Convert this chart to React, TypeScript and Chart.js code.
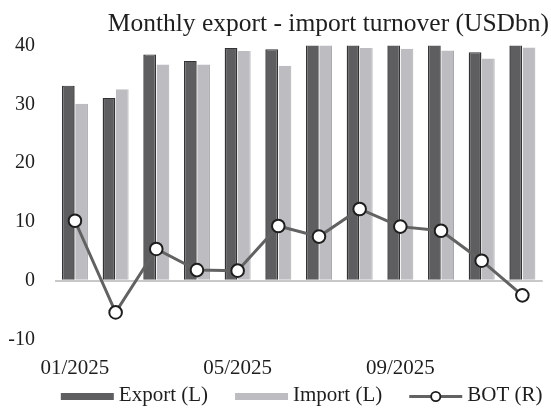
import React, { useEffect, useRef } from "react";
import { Chart, registerables } from "chart.js";

Chart.register(...registerables);

// ---- Data ----
const TITLE = "Monthly export - import turnover (USDbn)";
const months = [
  "01/2025", "02/2025", "03/2025", "04/2025", "05/2025", "06/2025",
  "07/2025", "08/2025", "09/2025", "10/2025", "11/2025", "12/2025",
];
const exportValues = [33.2, 31.1, 38.5, 37.4, 39.6, 39.4, 42.0, 43.0, 42.0, 42.5, 38.9, 44.0];
const importValues = [30.1, 32.6, 36.8, 36.8, 39.1, 36.6, 40.3, 39.6, 39.5, 39.2, 37.8, 39.7];
const botValues = [10.2, -5.4, 5.4, 1.8, 1.7, 9.3, 7.5, 12.2, 9.2, 8.5, 3.4, -2.5];
const seriesLabels = ["Export (L)", "Import (L)", "BOT (R)"];
const yMin = -10;
const yMax = 40;
const yStep = 10;
const labelEvery = 4;

// ---- Styles ----
const FONT = "'Liberation Serif', 'Times New Roman', Times, serif";
const TEXT = "#1e1e1e";
const EXPORT_FILL = "#5e5e60";
const EXPORT_EDGE = "#333335";
const IMPORT_FILL = "#bdbdc1";
const IMPORT_EDGE = "#a9a9ad";
const BOT_LINE = "#626262";
const BOT_POINT_EDGE = "#1e1e1e";

const legendPlugin = {
  id: "customLegend",
  afterDraw(chart: any) {
    const ctx = chart.ctx as CanvasRenderingContext2D;
    const ds = chart.data.datasets as any[];
    ctx.save();
    ctx.font = `21px ${FONT}`;
    const sw = 53;
    const gapText = 5;
    const gapItem = 27;
    const widths = ds.map((d) => ctx.measureText(d.label).width);
    const total =
      widths.reduce((a: number, w: number) => a + sw + gapText + w, 0) + gapItem * (ds.length - 1);
    const ca = chart.chartArea;
    let x = (ca.left + ca.right) / 2 - total / 2 + 3;
    const baseline = chart.height - 11;
    const midY = baseline - 4.5;
    ds.forEach((d, i) => {
      if (d.type === "line") {
        ctx.strokeStyle = d.borderColor;
        ctx.lineWidth = 3;
        ctx.beginPath();
        ctx.moveTo(x, midY);
        ctx.lineTo(x + sw, midY);
        ctx.stroke();
        ctx.beginPath();
        ctx.arc(x + sw / 2, midY, 4.6, 0, Math.PI * 2);
        ctx.fillStyle = "#ffffff";
        ctx.fill();
        ctx.lineWidth = 1.8;
        ctx.strokeStyle = d.pointBorderColor;
        ctx.stroke();
      } else {
        ctx.fillStyle = d.backgroundColor;
        ctx.fillRect(x, midY - 3.5, sw, 7);
      }
      ctx.fillStyle = TEXT;
      ctx.textBaseline = "alphabetic";
      ctx.textAlign = "left";
      ctx.fillText(d.label, x + sw + gapText, baseline);
      x += sw + gapText + widths[i] + gapItem;
    });
    ctx.restore();
  },
};

export default function App() {
  const ref = useRef<HTMLCanvasElement>(null);

  useEffect(() => {
    if (!ref.current) return;
    const chart = new Chart(ref.current, {
      type: "bar",
      data: {
        labels: months,
        datasets: [
          {
            type: "bar",
            label: seriesLabels[0],
            data: exportValues,
            backgroundColor: EXPORT_FILL,
            borderColor: EXPORT_EDGE,
            borderWidth: { left: 1.5, right: 1.5, top: 1, bottom: 0 },
            yAxisID: "y",
            order: 1,
            clip: 0,
            categoryPercentage: 0.652,
            barPercentage: 0.96,
          },
          {
            type: "bar",
            label: seriesLabels[1],
            data: importValues,
            backgroundColor: IMPORT_FILL,
            borderColor: IMPORT_EDGE,
            borderWidth: { left: 0, right: 1, top: 0, bottom: 0 },
            yAxisID: "y",
            order: 1,
            clip: 0,
            categoryPercentage: 0.652,
            barPercentage: 0.96,
          },
          {
            type: "line",
            label: seriesLabels[2],
            data: botValues,
            borderColor: BOT_LINE,
            borderWidth: 3,
            tension: 0,
            pointRadius: 6.3,
            pointBorderWidth: 2,
            pointBackgroundColor: "#ffffff",
            pointBorderColor: BOT_POINT_EDGE,
            yAxisID: "y1",
            order: 0,
          },
        ] as any,
      },
      options: {
        responsive: false,
        animation: false,
        events: [],
        layout: { padding: { top: 0, left: 0, right: 2, bottom: 31 } },
        plugins: {
          legend: { display: false },
          tooltip: { enabled: false },
          title: {
            display: true,
            text: TITLE,
            align: "end",
            color: TEXT,
            font: { family: FONT, size: 25.5, weight: "normal", lineHeight: 1.2 },
            padding: { top: 9.4, bottom: 5.7 },
          },
        },
        scales: {
          x: {
            grid: { display: false, drawTicks: false },
            border: { display: false },
            ticks: {
              autoSkip: false,
              maxRotation: 0,
              minRotation: 0,
              padding: 16,
              color: TEXT,
              font: { family: FONT, size: 21 },
              callback: (_v: any, i: number) => (i % labelEvery === 0 ? months[i] : ""),
            },
            afterFit: (s: any) => {
              s.height = 41.6;
            },
          },
          y: {
            position: "left",
            min: yMin,
            max: yMax,
            grid: {
              drawTicks: false,
              lineWidth: 2,
              color: (c: any) => (c.tick && c.tick.value === 0 ? "#c8c8c8" : "rgba(0,0,0,0)"),
            },
            border: { display: false },
            ticks: {
              stepSize: yStep,
              padding: 19.6,
              color: TEXT,
              font: { family: FONT, size: 20 },
            },
            afterFit: (s: any) => {
              s.width = 54.6;
            },
          },
          y1: {
            position: "right",
            min: yMin,
            max: yMax,
            grid: { display: false, drawTicks: false },
            border: { display: false },
            ticks: { display: false },
            afterFit: (s: any) => {
              s.width = 4.6;
            },
          },
        },
      } as any,
      plugins: [legendPlugin],
    });
    return () => chart.destroy();
  }, []);

  return (
    <div style={{ position: "fixed", left: 0, top: 0, width: 551, height: 412, background: "#ffffff" }}>
      <canvas ref={ref} width={551} height={412} style={{ display: "block", width: 551, height: 412 }} />
    </div>
  );
}
